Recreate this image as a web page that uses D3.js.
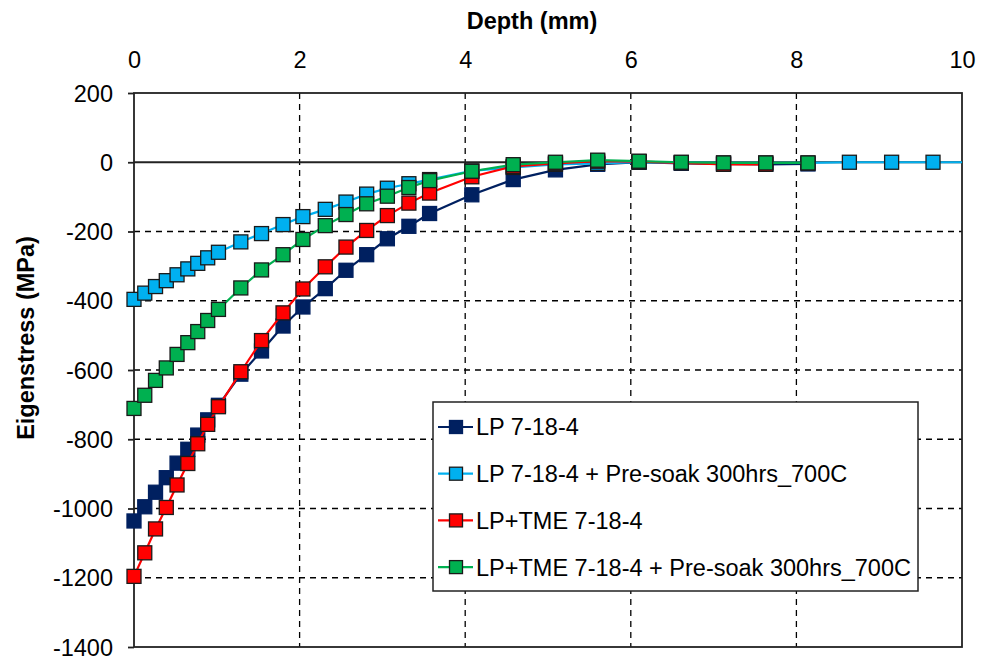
<!DOCTYPE html>
<html><head><meta charset="utf-8">
<script src="https://cdn.jsdelivr.net/npm/d3@7"></script>
<style>body{margin:0;background:#fff;font-family:Arial,"Liberation Sans",sans-serif;}</style>
</head><body><svg id="c" width="989" height="657"></svg>
<script>
const depth = [0, 0.13, 0.26, 0.39, 0.52, 0.65, 0.77, 0.89, 1.02, 1.29, 1.54, 1.80, 2.04, 2.31, 2.56, 2.81, 3.06, 3.32, 3.57, 4.08, 4.58, 5.09, 5.60, 6.10, 6.61, 7.12, 7.63, 8.14, 8.64, 9.15, 9.65, 10.16];
const lp = [-1036, -995, -953, -911, -869, -829, -788, -744, -702, -612, -545, -473, -418, -365, -312, -267, -221, -185, -148, -94, -50, -22, -6, 0, -3, -5, -6, -5];
const lpSoak = [-396, -378, -359, -342, -325, -308, -292, -276, -260, -230, -206, -180, -157, -136, -115, -92, -75, -62, -50, -25, -15, -6, -3, 0, -1, -2, -2, -2, 0, 0, 0, 0];
const lpTme = [-1196, -1128, -1059, -997, -932, -870, -813, -757, -706, -605, -515, -435, -366, -302, -245, -197, -154, -118, -89, -42, -12, -3, 3, 2, -2, -6, -6];
const lpTmeSoak = [-711, -673, -630, -594, -555, -521, -489, -457, -425, -363, -311, -267, -223, -183, -151, -120, -98, -73, -53, -26, -7, 0, 6, 3, 0, -2, -2, -2];
const seriesNames = ["LP 7-18-4", "LP 7-18-4 + Pre-soak 300hrs_700C", "LP+TME 7-18-4", "LP+TME 7-18-4 + Pre-soak 300hrs_700C"];
const seriesValues = [lp, lpSoak, lpTme, lpTmeSoak];
const colors = ["#002060", "#00B0F0", "#FF0000", "#00B050"];
const markerStroke = ["#002060", "#1a1a1a", "#1a1a1a", "#1a1a1a"];
const xTicks = [0, 2, 4, 6, 8, 10];
const yTicks = [200, 0, -200, -400, -600, -800, -1000, -1200, -1400];

const FS = 23.5;
const FONT = "Arial, 'Liberation Sans', sans-serif";
const svg = d3.select("#c");
const L = 134, R = 962, T = 93, B = 647;
const x = d3.scaleLinear().domain([0, 10]).range([L, R]);
const y = d3.scaleLinear().domain([-1400, 200]).range([B, T]);

svg.append("defs").append("clipPath").attr("id", "clip")
  .append("rect").attr("x", L).attr("y", T).attr("width", R - L).attr("height", B - T);

// gridlines
const g = svg.append("g");
g.selectAll("line.vg").data(xTicks.filter(d => d > 0 && d < 10)).join("line")
  .attr("x1", d => x(d)).attr("x2", d => x(d)).attr("y1", T).attr("y2", B)
  .attr("stroke", "#000").attr("stroke-width", 1.3).attr("stroke-dasharray", "6,5");
g.selectAll("line.hg").data(yTicks.filter(d => d < 0 && d > -1400)).join("line")
  .attr("x1", L).attr("x2", R).attr("y1", d => y(d)).attr("y2", d => y(d))
  .attr("stroke", "#000").attr("stroke-width", 1.3).attr("stroke-dasharray", "6,5");

// frame and zero line
svg.append("rect").attr("x", L).attr("y", T).attr("width", R - L).attr("height", B - T)
  .attr("fill", "none").attr("stroke", "#222").attr("stroke-width", 1.8);
svg.append("line").attr("x1", L).attr("x2", R).attr("y1", y(0)).attr("y2", y(0))
  .attr("stroke", "#222").attr("stroke-width", 1.8);

// axes
const yAxis = d3.axisLeft(y).tickValues(yTicks).tickSize(6).tickPadding(15).tickFormat(d => String(d));
const ya = svg.append("g").attr("transform", `translate(${L},0)`).call(yAxis);
ya.select(".domain").remove();
ya.selectAll(".tick line").attr("stroke", "#222").attr("stroke-width", 1.8);
ya.selectAll(".tick text").attr("font-size", FS).attr("fill", "#000").attr("font-family", FONT)
  .attr("dy", "0.35em");

const xAxis = d3.axisTop(x).tickValues(xTicks).tickSize(0).tickPadding(25).tickFormat(d => String(d));
const xa = svg.append("g").attr("transform", `translate(0,${T})`).call(xAxis);
xa.select(".domain").remove();
xa.selectAll(".tick text").attr("font-size", FS).attr("fill", "#000").attr("font-family", FONT);

svg.append("text").attr("x", 532).attr("y", 29).attr("text-anchor", "middle").attr("font-family", FONT)
  .attr("font-size", FS).attr("font-weight", "bold").text("Depth (mm)");
svg.append("text").attr("transform", "translate(34,338) rotate(-90)").attr("text-anchor", "middle").attr("font-family", FONT)
  .attr("font-size", FS).attr("font-weight", "bold").text("Eigenstress (MPa)");

// series
const line = d3.line().x(d => x(d[0])).y(d => y(d[1]));
const ms = 14;
seriesValues.forEach((vals, i) => {
  const pts = vals.map((v, k) => [depth[k], v]);
  const sg = svg.append("g");
  sg.append("path").datum(pts).attr("d", line).attr("fill", "none")
    .attr("stroke", colors[i]).attr("stroke-width", 2.2).attr("clip-path", "url(#clip)");
  sg.selectAll("rect").data(pts.filter(p => p[0] <= 10)).join("rect")
    .attr("x", d => x(d[0]) - ms / 2).attr("y", d => y(d[1]) - ms / 2)
    .attr("width", ms).attr("height", ms)
    .attr("fill", colors[i]).attr("stroke", markerStroke[i]).attr("stroke-width", 1.3);
});

// legend
const lg = svg.append("g");
lg.append("rect").attr("x", 433).attr("y", 402).attr("width", 485).attr("height", 189)
  .attr("fill", "#fff").attr("stroke", "#222").attr("stroke-width", 1.5);
seriesNames.forEach((name, i) => {
  const cy = 427 + i * 46.7;
  lg.append("line").attr("x1", 438).attr("x2", 473).attr("y1", cy).attr("y2", cy)
    .attr("stroke", colors[i]).attr("stroke-width", 2.2);
  lg.append("rect").attr("x", 456 - 6.5).attr("y", cy - 6.5).attr("width", 13).attr("height", 13)
    .attr("fill", colors[i]).attr("stroke", markerStroke[i]).attr("stroke-width", 1.3);
  lg.append("text").attr("x", 476).attr("y", cy).attr("dy", "0.36em").attr("font-family", FONT)
    .attr("font-size", FS).attr("fill", "#000").text(name);
});
</script></body></html>
